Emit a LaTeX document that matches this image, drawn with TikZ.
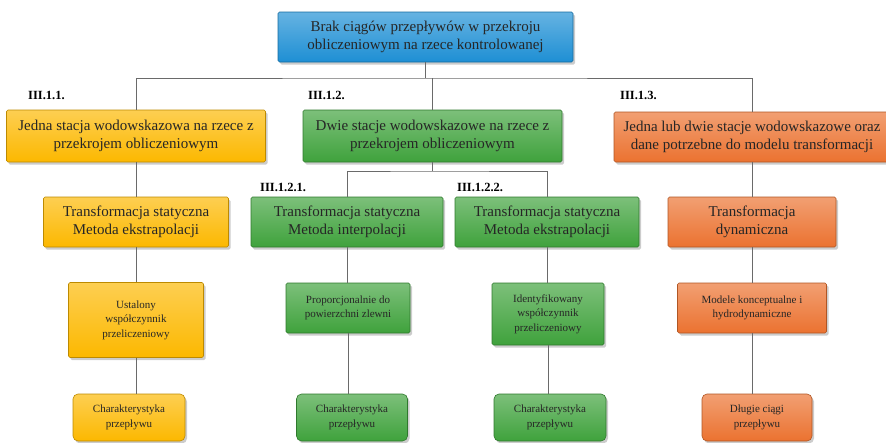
\documentclass[tikz,border=0pt]{standalone}
\usepackage{fontspec}
\setmainfont{Liberation Serif}
\usetikzlibrary{shadows}

\definecolor{boxblue}{HTML}{1E8FD4}
\definecolor{boxyellow}{HTML}{FCB800}
\definecolor{boxgreen}{HTML}{3FA23C}
\definecolor{boxorange}{HTML}{EB7230}
\definecolor{linegray}{HTML}{6A6A6A}

\tikzset{
  box/.style={draw=#1!75!black, line width=0.6pt, rounded corners=1.5pt,
    top color=#1!68!white, bottom color=#1, align=center, inner sep=1pt,
    text=black!85, font=\fontsize{15}{18.5}\selectfont,
    drop shadow={shadow xshift=2pt, shadow yshift=-2.5pt, opacity=0.4}},
  small/.style={font=\fontsize{11}{14.5}\selectfont},
  leaf/.style={small, rounded corners=5pt},
  tag/.style={anchor=west, inner sep=0pt, font=\bfseries\fontsize{12.5}{14}\selectfont},
  conn/.style={draw=linegray, line width=0.9pt},
}

\begin{document}
\begin{tikzpicture}[x=1pt, y=-1pt]
    \useasboundingbox (0,0) rectangle (886,442);

    % root
    \node[box=boxblue, minimum width=295pt, minimum height=50pt] (top) at (425.5,37)
        {Brak ciągów przepływów w przekroju\\obliczeniowym na rzece kontrolowanej};
    \coordinate (bus) at (425.5,78);

    % III.1.1 branch
    \node[box=boxyellow, minimum width=259pt, minimum height=52pt] (L1) at (136,136)
        {Jedna stacja wodowskazowa na rzece z\\przekrojem obliczeniowym};
    \node[box=boxyellow, minimum width=185pt, minimum height=50pt] (L2) at (136,222)
        {Transformacja statyczna\\Metoda ekstrapolacji};
    \node[box=boxyellow, small, minimum width=135pt, minimum height=75pt] (L3) at (136,320)
        {Ustalony\\współczynnik\\przeliczeniowy};
    \node[box=boxyellow, leaf, minimum width=112pt, minimum height=47pt] (L4) at (129,417.5)
        {Charakterystyka\\przepływu};

    % III.1.2 branch
    \node[box=boxgreen, minimum width=259pt, minimum height=52pt] (M1) at (432.5,136)
        {Dwie stacje wodowskazowe na rzece z\\przekrojem obliczeniowym};
    \coordinate (split) at (432.5,171);
    \node[box=boxgreen, minimum width=192pt, minimum height=50pt] (M2a) at (347,222)
        {Transformacja statyczna\\Metoda interpolacji};
    \node[box=boxgreen, minimum width=184pt, minimum height=50pt] (M2b) at (547,222)
        {Transformacja statyczna\\Metoda ekstrapolacji};
    \node[box=boxgreen, small, minimum width=124pt, minimum height=50pt] (M3a) at (348,308)
        {Proporcjonalnie do\\powierzchni zlewni};
    \node[box=boxgreen, leaf, minimum width=111pt, minimum height=47pt] (M4a) at (352,417.5)
        {Charakterystyka\\przepływu};
    \node[box=boxgreen, small, minimum width=112pt, minimum height=62pt] (M3b) at (548,314)
        {Identyfikowany\\współczynnik\\przeliczeniowy};
    \node[box=boxgreen, leaf, minimum width=112pt, minimum height=47pt] (M4b) at (550,417.5)
        {Charakterystyka\\przepływu};

    % III.1.3 branch
    \node[box=boxorange, minimum width=276pt, minimum height=50pt] (R1) at (752,137)
        {Jedna lub dwie stacje wodowskazowe oraz\\dane potrzebne do modelu transformacji};
    \node[box=boxorange, minimum width=168pt, minimum height=50pt] (R2) at (752,222)
        {Transformacja\\dynamiczna};
    \node[box=boxorange, small, minimum width=149pt, minimum height=50pt] (R3) at (752,308)
        {Modele konceptualne i\\hydrodynamiczne};
    \node[box=boxorange, leaf, minimum width=110pt, minimum height=47pt] (R4) at (757,417.5)
        {Długie ciągi\\przepływu};

    % numbering
    \node[tag] (t1) at (28,95) {III.1.1.};
    \node[tag] (t2) at (308,95) {III.1.2.};
    \node[tag] (t21) at (260,187) {III.1.2.1.};
    \node[tag] (t22) at (457,187) {III.1.2.2.};
    \node[tag] (t3) at (620,95) {III.1.3.};

    % connectors
    \draw[conn] (top.south) -- (bus);
    \draw[conn] (L1.north) |- (bus) -| (R1.north);
    \draw[conn] (M1.north) -- (M1.north |- bus);
    \draw[conn] (L1) -- (L2);
    \draw[conn] (L2) -- (L3);
    \draw[conn] (L3.south) -- (L3.south |- L4.north);
    \draw[conn] (M1.south) -- (split);
    \draw[conn] (M2a.north) |- (split) -| (M2b.north);
    \draw[conn] (M2a.south) -- (M2a.south |- M3a.north);
    \draw[conn] (M3a.south) -- (M3a.south |- M4a.north);
    \draw[conn] (M2b.south) -- (M2b.south |- M3b.north);
    \draw[conn] (M3b.south) -- (M3b.south |- M4b.north);
    \draw[conn] (R1) -- (R2);
    \draw[conn] (R2) -- (R3);
    \draw[conn] (R3.south) -- (R3.south |- R4.north);
\end{tikzpicture}
\end{document}
